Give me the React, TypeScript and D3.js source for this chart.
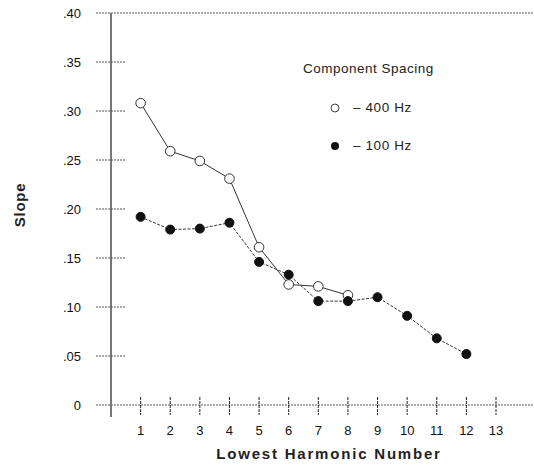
import React from "react";
import * as d3 from "d3";

const harmonics400 = [1, 2, 3, 4, 5, 6, 7, 8];
const slope400 = [0.308, 0.259, 0.249, 0.231, 0.161, 0.123, 0.121, 0.112];
const harmonics100 = [1, 2, 3, 4, 5, 6, 7, 8, 9, 10, 11, 12];
const slope100 = [0.192, 0.179, 0.18, 0.186, 0.146, 0.133, 0.106, 0.106, 0.11, 0.091, 0.068, 0.052];
const xTicks = [1, 2, 3, 4, 5, 6, 7, 8, 9, 10, 11, 12, 13];
const yTicks = [0, 0.05, 0.1, 0.15, 0.2, 0.25, 0.3, 0.35, 0.4];
const yTickLabels = ["0", ".05", ".10", ".15", ".20", ".25", ".30", ".35", ".40"];

const W = 534;
const H = 467;
const FONT = "'Liberation Sans', Arial, sans-serif";

export default function App() {
  const x = d3.scaleLinear().domain([0, 13]).range([111, 496]);
  const y = d3.scaleLinear().domain([0, 0.4]).range([405, 13]);
  const line = d3
    .line<[number, number]>()
    .x((d) => x(d[0]))
    .y((d) => y(d[1]));
  const d400: [number, number][] = harmonics400.map((h, i) => [h, slope400[i]]);
  const d100: [number, number][] = harmonics100.map((h, i) => [h, slope100[i]]);

  return (
    <svg
      width={W}
      height={H}
      style={{ position: "absolute", left: 0, top: 0, background: "#fff" }}
      fontFamily={FONT}
    >
      <rect width={W} height={H} fill="#fff" />
      {/* top dotted frame line */}
      <line x1={96} x2={533} y1={y(0.4)} y2={y(0.4)} stroke="#555" strokeWidth={1} strokeDasharray="2,1" />
      {/* baseline */}
      <line x1={96} x2={533} y1={y(0)} y2={y(0)} stroke="#555" strokeWidth={1} strokeDasharray="2,1" />
      {/* y axis */}
      <line x1={x(0)} x2={x(0)} y1={y(0.4)} y2={417} stroke="#777" strokeWidth={2} />
      {/* y ticks */}
      {yTicks.map((t, i) => (
        <g key={"yt" + i}>
          {t > 0 && t < 0.4 && (
            <line x1={96} x2={125} y1={y(t)} y2={y(t)} stroke="#555" strokeWidth={1} strokeDasharray="2,1" />
          )}
          <text x={81} y={y(t)} dy="0.35em" textAnchor="end" fontSize={13} fill="#111">
            {yTickLabels[i]}
          </text>
        </g>
      ))}
      {/* x ticks */}
      {xTicks.map((t) => (
        <g key={"xt" + t}>
          <line x1={x(t)} x2={x(t)} y1={397} y2={415} stroke="#222" strokeWidth={1} strokeDasharray="3,1" />
          <text x={x(t)} y={435} textAnchor="middle" fontSize={13} fill="#111">
            {t}
          </text>
        </g>
      ))}
      {/* axis titles */}
      <text
        x={329}
        y={459}
        textAnchor="middle"
        fontSize={15}
        fontWeight="bold"
        letterSpacing={1.8}
        fill="#222"
      >
        Lowest Harmonic Number
      </text>
      <text
        transform={`translate(25,205) rotate(-90)`}
        textAnchor="middle"
        fontSize={15}
        fontWeight="bold"
        letterSpacing={0.7}
        fill="#222"
      >
        Slope
      </text>
      {/* series */}
      <path d={line(d400) || ""} fill="none" stroke="#333" strokeWidth={1} />
      <path d={line(d100) || ""} fill="none" stroke="#333" strokeWidth={1} strokeDasharray="3,1.5" />
      {d400.map((d, i) => (
        <circle key={"o" + i} cx={x(d[0])} cy={y(d[1])} r={4.8} fill="#fff" stroke="#333" strokeWidth={1} />
      ))}
      {d100.map((d, i) => (
        <circle key={"f" + i} cx={x(d[0])} cy={y(d[1])} r={4.5} fill="#111" stroke="#111" />
      ))}
      {/* legend */}
      <text x={303} y={73} fontSize={13.5} letterSpacing={0.5} fill="#222">
        Component Spacing
      </text>
      <circle cx={335} cy={108} r={4} fill="#fff" stroke="#444" strokeWidth={1} />
      <text x={353} y={112} fontSize={13.5} letterSpacing={0.6} fill="#222">
        – 400 Hz
      </text>
      <circle cx={335} cy={146} r={4} fill="#111" />
      <text x={353} y={150} fontSize={13.5} letterSpacing={0.6} fill="#222">
        – 100 Hz
      </text>
    </svg>
  );
}
